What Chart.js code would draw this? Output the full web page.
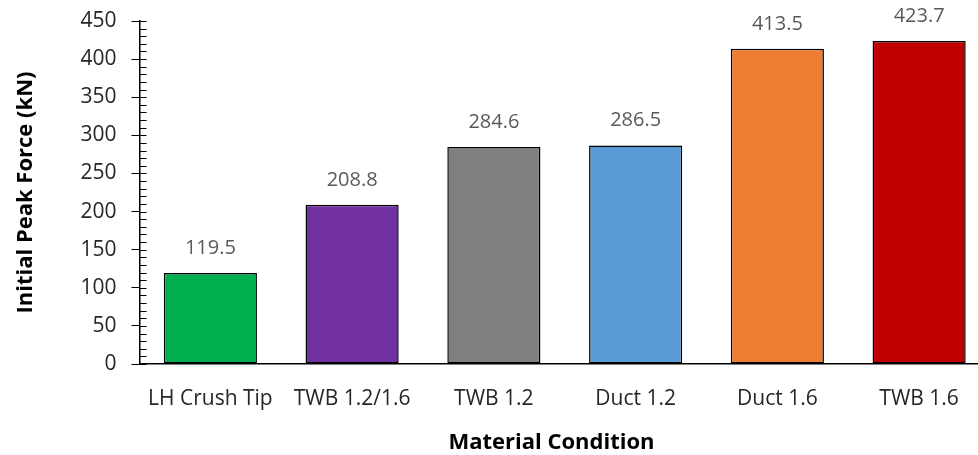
<!DOCTYPE html>
<html>
<head>
<meta charset="utf-8">
<script src="https://cdn.jsdelivr.net/npm/chart.js@4/dist/chart.umd.min.js"></script>
<style>
  html, body { margin: 0; padding: 0; background: #fff; overflow: hidden; }
  #wrap { width: 978px; height: 455px; overflow: hidden; }
  canvas { display: block; }
</style>
</head>
<body>
<div id="wrap"><canvas id="c" width="992" height="455" style="width:992px;height:455px"></canvas></div>
<script>
// Material conditions and their initial peak forces (kN)
const categories = ['LH Crush Tip', 'TWB 1.2/1.6', 'TWB 1.2', 'Duct 1.2', 'Duct 1.6', 'TWB 1.6'];
const peakForce = [119.5, 208.8, 284.6, 286.5, 413.5, 423.7];
const barColors = ['#00B050', '#7030A0', '#808080', '#5B9BD5', '#ED7D31', '#C00000'];
const yTicks = [0, 50, 100, 150, 200, 250, 300, 350, 400, 450];

const FONT = "'Open Sans', 'DejaVu Sans', sans-serif";

// Small inward minor ticks every 10 kN along the value axis
const minorTicks = {
  id: 'minorTicks',
  afterDraw(chart) {
    const { ctx, chartArea, scales: { y } } = chart;
    ctx.save();
    ctx.strokeStyle = '#000';
    ctx.lineWidth = 1;
    ctx.beginPath();
    for (let v = y.min; v <= y.max; v += 10) {
      const py = Math.round(y.getPixelForValue(v)) + 0.5;
      ctx.moveTo(chartArea.left, py);
      ctx.lineTo(chartArea.left + 7, py);
    }
    ctx.stroke();
    ctx.restore();
  }
};

// Value labels above each bar
const valueLabels = {
  id: 'valueLabels',
  afterDatasetsDraw(chart) {
    const { ctx } = chart;
    const meta = chart.getDatasetMeta(0);
    ctx.save();
    ctx.fillStyle = '#595959';
    ctx.font = `20px ${FONT}`;
    ctx.textAlign = 'center';
    ctx.textBaseline = 'middle';
    meta.data.forEach((bar, i) => {
      const v = chart.data.datasets[0].data[i];
      ctx.fillText(v.toFixed(1), bar.x, bar.y - 25);
    });
    ctx.restore();
  }
};

// Category axis title
const xTitle = {
  id: 'xTitle',
  afterDraw(chart) {
    const { ctx, chartArea } = chart;
    ctx.save();
    ctx.fillStyle = '#000';
    ctx.font = `bold 22px ${FONT}`;
    ctx.textAlign = 'center';
    ctx.textBaseline = 'middle';
    ctx.fillText('Material Condition', chartArea.left + 412, chart.height - 12);
    ctx.restore();
  }
};

new Chart(document.getElementById('c'), {
  type: 'bar',
  data: {
    labels: categories,
    datasets: [{
      data: peakForce,
      backgroundColor: barColors,
      borderColor: '#000',
      borderWidth: 1.5,
      borderSkipped: false,
      categoryPercentage: 1,
      barPercentage: 0.657
    }]
  },
  options: {
    responsive: false,
    animation: false,
    devicePixelRatio: 1,
    layout: { padding: { top: 21, right: 2, left: 0, bottom: 0 } },
    plugins: { legend: { display: false }, tooltip: { enabled: false } },
    scales: {
      x: {
        grid: { display: false, drawTicks: false },
        border: { display: true, color: '#000', width: 1.5 },
        ticks: { color: '#262626', font: { family: FONT, size: 21 }, padding: 22, maxRotation: 0, autoSkip: false },
        afterFit(scale) { scale.height = 91; }
      },
      y: {
        min: 0,
        max: 450,
        afterBuildTicks(scale) { scale.ticks = yTicks.map(v => ({ value: v })); },
        grid: { drawOnChartArea: false, drawTicks: true, tickLength: 8, color: '#000', lineWidth: 1 },
        border: { display: true, color: '#000', width: 1.5 },
        ticks: { color: '#262626', font: { family: FONT, size: 21 }, padding: 15 },
        title: {
          display: true,
          text: 'Initial Peak Force (kN)',
          color: '#000',
          font: { family: FONT, size: 22, weight: 'bold' },
          padding: { top: 13, bottom: 0 }
        },
        afterFit(scale) {
          scale.width = 139.5;
          scale.paddingTop = 0;
          scale.paddingBottom = 0;
        }
      }
    }
  },
  plugins: [minorTicks, valueLabels, xTitle]
});
</script>
</body>
</html>
